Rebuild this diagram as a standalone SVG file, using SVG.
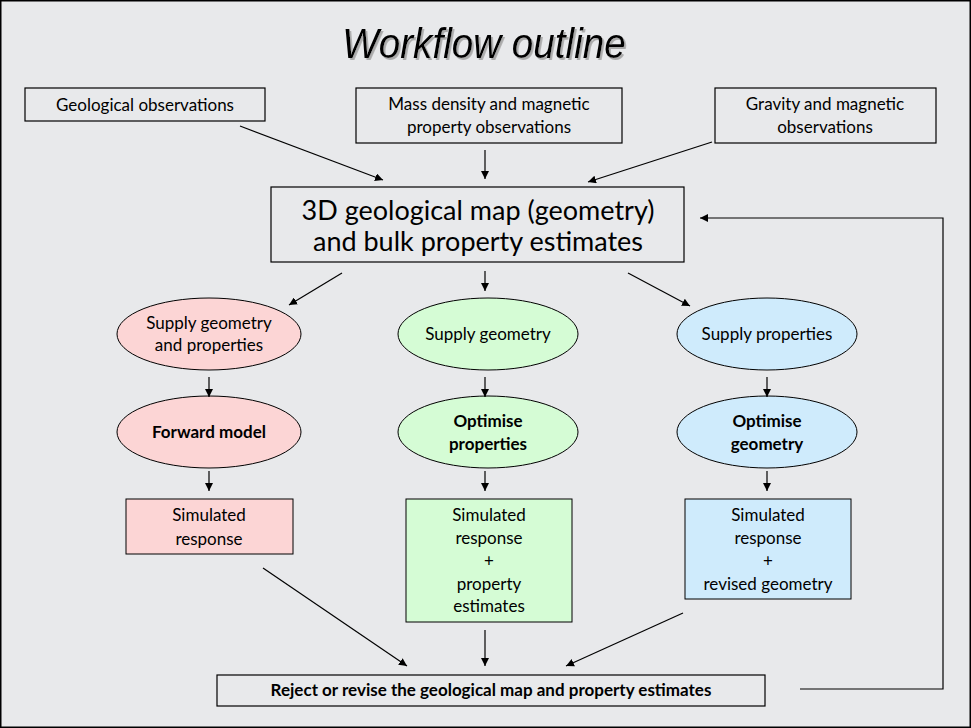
<svg xmlns="http://www.w3.org/2000/svg" width="971" height="728" viewBox="0 0 971 728">
<style>
text{font-family:Lato,"Open Sans",sans-serif;font-size:17px;fill:#000;text-anchor:middle}
.b{font-weight:bold}
.n{fill:none;stroke:#000;stroke-width:1.2}
.c line,.c path{stroke:#000;stroke-width:1.2;fill:none;marker-end:url(#a)}
</style>
<defs><marker id="a" viewBox="0 0 10 10" refX="10" refY="5" markerWidth="8" markerHeight="8" orient="auto" markerUnits="userSpaceOnUse"><path d="M0,0L10,5L0,10z" fill="#000"/></marker>
<filter id="s" x="-10%" y="-20%" width="120%" height="150%"><feDropShadow dx="2" dy="2" stdDeviation="0.5" flood-color="#aaa"/></filter></defs>
<rect x="0.5" y="0.5" width="970" height="727" fill="#e8e9eb" stroke="#000" stroke-width="2"/>
<text x="484" y="58" filter="url(#s)" style="font-family:'Liberation Sans',sans-serif;font-style:italic;font-size:42px" transform="translate(484 0) scale(0.92 1) translate(-484 0)">Workflow outline</text>
<g id="geo"><rect class="n" x="25" y="88" width="240" height="33"/><text x="145" y="111">Geological observations</text></g>
<g id="mass"><rect class="n" x="356" y="88" width="266" height="55"/><text x="489" y="110">Mass density and magnetic</text><text x="489" y="133">property observations</text></g>
<g id="grav"><rect class="n" x="715" y="88" width="221" height="55"/><text x="825" y="110">Gravity and magnetic</text><text x="825" y="133">observations</text></g>
<g id="map"><rect class="n" x="271" y="187" width="413" height="75"/><text x="478" y="220" style="font-size:27px">3D geological map (geometry)</text><text x="478" y="251" style="font-size:27px">and bulk property estimates</text></g>
<g id="e1"><ellipse cx="209" cy="334" rx="92" ry="36" fill="#fcd5d5" stroke="#000"/><text x="209" y="329">Supply geometry</text><text x="209" y="351">and properties</text></g>
<g id="e2"><ellipse cx="488" cy="334" rx="90" ry="36" fill="#d5fcd5" stroke="#000"/><text x="488" y="340">Supply geometry</text></g>
<g id="e3"><ellipse cx="767" cy="334" rx="90" ry="36" fill="#cfebfc" stroke="#000"/><text x="767" y="340">Supply properties</text></g>
<g id="f1"><ellipse cx="209" cy="432" rx="92" ry="36" fill="#fcd5d5" stroke="#000"/><text class="b" x="209" y="438">Forward model</text></g>
<g id="f2"><ellipse cx="488" cy="432" rx="90" ry="36" fill="#d5fcd5" stroke="#000"/><text class="b" x="488" y="427">Optimise</text><text class="b" x="488" y="450">properties</text></g>
<g id="f3"><ellipse cx="767" cy="432" rx="90" ry="36" fill="#cfebfc" stroke="#000"/><text class="b" x="767" y="427">Optimise</text><text class="b" x="767" y="450">geometry</text></g>
<g id="r1"><rect x="126" y="499" width="167" height="55" fill="#fcd5d5" stroke="#000"/><text x="209" y="521">Simulated</text><text x="209" y="545">response</text></g>
<g id="r2"><rect x="406" y="499" width="166" height="123" fill="#d5fcd5" stroke="#000"/><text x="489" y="521">Simulated</text><text x="489" y="544">response</text><text x="489" y="567">+</text><text x="489" y="590">property</text><text x="489" y="612">estimates</text></g>
<g id="r3"><rect x="685" y="499" width="166" height="100" fill="#cfebfc" stroke="#000"/><text x="768" y="521">Simulated</text><text x="768" y="544">response</text><text x="768" y="567">+</text><text x="768" y="590">revised geometry</text></g>
<g id="rej"><rect class="n" x="217" y="675" width="548" height="31"/><text class="b" x="491" y="696">Reject or revise the geological map and property estimates</text></g>
<g class="c">
<line x1="240" y1="126" x2="383" y2="180"/>
<line x1="485" y1="150" x2="485" y2="179"/>
<line x1="712" y1="142" x2="588" y2="182"/>
<line x1="342" y1="273" x2="289" y2="305"/>
<line x1="485" y1="271" x2="485" y2="291"/>
<line x1="628" y1="273" x2="690" y2="306"/>
<line x1="209" y1="377" x2="209" y2="397"/>
<line x1="485" y1="377" x2="485" y2="397"/>
<line x1="767" y1="377" x2="767" y2="397"/>
<line x1="209" y1="471" x2="209" y2="491"/>
<line x1="485" y1="471" x2="485" y2="491"/>
<line x1="767" y1="471" x2="767" y2="491"/>
<line x1="263" y1="568" x2="407" y2="666"/>
<line x1="485" y1="630" x2="485" y2="666"/>
<line x1="683" y1="613" x2="566" y2="666"/>
<path d="M800,689H943V218H700"/>
</g>
</svg>
